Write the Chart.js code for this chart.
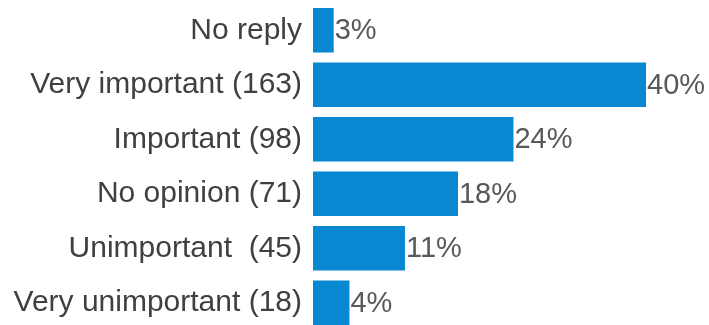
<!DOCTYPE html>
<html>
<head>
<meta charset="utf-8">
<script src="https://cdn.jsdelivr.net/npm/chart.js@4/dist/chart.umd.min.js"></script>
<style>
  html, body { margin: 0; padding: 0; background: #fff; overflow: hidden; }
  #wrap { width: 709px; height: 330px; position: relative; }
</style>
</head>
<body>
<div id="wrap"><canvas id="chart"></canvas></div>
<script>
// Survey answers, share of all replies (%)
const categories = [
  'No reply',
  'Very important (163)',
  'Important (98)',
  'No opinion (71)',
  'Unimportant  (45)',
  'Very unimportant (18)',
];
const shares = [2.5, 40.2, 24.2, 17.5, 11.1, 4.4];

const BAR_BLUE = '#0788d0';
const FONT = '"Liberation Sans", Arial, sans-serif';

// draws "NN%" just past the end of each bar
const valueLabels = {
  id: 'valueLabels',
  afterDatasetsDraw(chart) {
    const ctx = chart.ctx;
    const meta = chart.getDatasetMeta(0);
    ctx.save();
    ctx.font = '29px ' + FONT;
    ctx.fillStyle = '#595959';
    ctx.textAlign = 'left';
    ctx.textBaseline = 'middle';
    meta.data.forEach((bar, i) => {
      ctx.fillText(Math.round(shares[i]) + '%', bar.x + 1, bar.y + 1);
    });
    ctx.restore();
  },
};

new Chart(document.getElementById('chart'), {
  type: 'bar',
  data: {
    labels: categories,
    datasets: [{
      data: shares,
      backgroundColor: BAR_BLUE,
      borderWidth: 0,
      barPercentage: 0.82,
      categoryPercentage: 1,
    }],
  },
  plugins: [valueLabels],
  options: {
    indexAxis: 'y',
    responsive: true,
    maintainAspectRatio: false,
    animation: false,
    layout: { padding: { top: 3, right: 0, bottom: 0, left: 0 } },
    plugins: {
      legend: { display: false },
      tooltip: { enabled: false },
    },
    scales: {
      x: {
        display: false,
        min: 0,
        max: 47.8,
      },
      y: {
        grid: { display: false, drawTicks: false },
        border: { display: false },
        ticks: {
          padding: 11,
          color: '#404040',
          font: { family: FONT, size: 30 },
        },
        afterFit: (scale) => {
          // fixed gutter, and no extra room for half-labels at the ends
          scale.width = 313;
          scale.paddingTop = 0;
          scale.paddingBottom = 0;
        },
      },
    },
  },
});
</script>
</body>
</html>
